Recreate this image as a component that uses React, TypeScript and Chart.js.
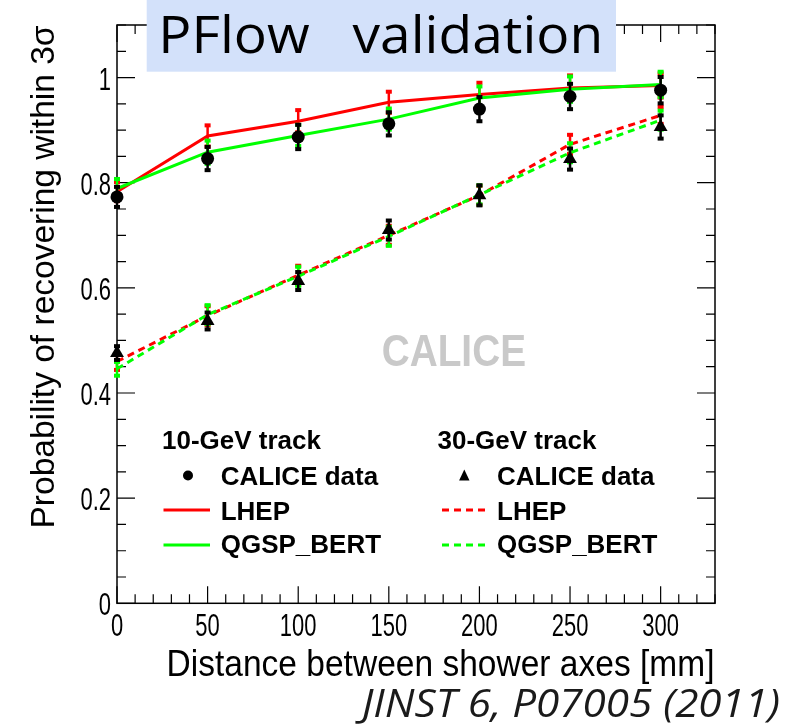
import React, { useEffect, useRef } from "react";
import { Chart, registerables } from "chart.js";

Chart.register(...registerables);

// Distance between shower axes [mm]
const distances = [0, 50, 100, 150, 200, 250, 300];

// 10-GeV track
const data10 = [0.773, 0.846, 0.887, 0.912, 0.940, 0.964, 0.976];
const data10Err = [0.021, 0.024, 0.025, 0.024, 0.025, 0.026, 0.027];
const lhep10 = [0.783, 0.889, 0.917, 0.953, 0.968, 0.980, 0.985];
const lhep10Err = [0.020, 0.022, 0.023, 0.022, 0.024, 0.026, 0.025];
const qgsp10 = [0.789, 0.858, 0.890, 0.921, 0.961, 0.978, 0.987];
const qgsp10Err = [0.020, 0.024, 0.022, 0.022, 0.024, 0.026, 0.026];

// 30-GeV track
const data30 = [0.476, 0.537, 0.613, 0.710, 0.776, 0.845, 0.906];
const data30Err = [0.015, 0.018, 0.019, 0.020, 0.021, 0.022, 0.024];
const lhep30 = [0.460, 0.547, 0.624, 0.700, 0.776, 0.873, 0.928];
const lhep30Err = [0.018, 0.020, 0.020, 0.020, 0.020, 0.020, 0.018];
const qgsp30 = [0.446, 0.549, 0.622, 0.698, 0.777, 0.857, 0.919];
const qgsp30Err = [0.015, 0.020, 0.020, 0.020, 0.020, 0.020, 0.020];

// Axis ticks
const xMajorTicks = [0, 50, 100, 150, 200, 250, 300];
const xTickLabels = ["0", "50", "100", "150", "200", "250", "300"];
const yMajorTicks = [0, 0.2, 0.4, 0.6, 0.8, 1];
const yTickLabels = ["0", "0.2", "0.4", "0.6", "0.8", "1"];
const X_MIN = 0;
const X_MAX = 330;
const X_MINOR_STEP = 10;
const Y_MIN = 0;
const Y_MAX = 1.1;
const Y_MINOR_STEP = 0.05;

const RED = "#ff0000";
const GREEN = "#00ff00";
const HELV = "'Liberation Sans', Arial, Helvetica, sans-serif";
const HUMAN = "'Open Sans', 'Noto Sans', sans-serif";

const pts = (ys: number[]) => distances.map((x, i) => ({ x, y: ys[i] }));

type TextOpts = {
  x: number;
  baseline: number;
  width?: number;
  sizeX?: number;
  cap: number;
  family: string;
  weight?: string;
  style?: string;
  align?: "left" | "center" | "right";
  color?: string;
};

// Draws text with independent horizontal and vertical scaling.
function stretchedText(ctx: CanvasRenderingContext2D, text: string, o: TextOpts) {
  const base = 100;
  ctx.save();
  ctx.font = `${o.style || "normal"} ${o.weight || "normal"} ${base}px ${o.family}`;
  const w = ctx.measureText(text).width;
  const capH = ctx.measureText("H").actualBoundingBoxAscent || 72;
  const sy = o.cap / capH;
  const sx = o.width != null ? o.width / w : (o.sizeX || 20) / base;
  const drawnW = w * sx;
  const align = o.align || "left";
  const x0 = align === "left" ? o.x : align === "center" ? o.x - drawnW / 2 : o.x - drawnW;
  ctx.translate(x0, o.baseline);
  ctx.scale(sx, sy);
  ctx.textAlign = "left";
  ctx.textBaseline = "alphabetic";
  ctx.fillStyle = o.color || "#000";
  ctx.fillText(text, 0, 0);
  ctx.restore();
}

const whiteBg = {
  id: "whiteBg",
  beforeDraw(chart: any) {
    const ctx = chart.ctx;
    ctx.save();
    ctx.fillStyle = "#fff";
    ctx.fillRect(0, 0, chart.width, chart.height);
    ctx.restore();
  },
};

// Frame, inward ticks on all four sides, tick labels and axis titles
const frameAxes = {
  id: "frameAxes",
  beforeDatasetsDraw(chart: any) {
    const ctx: CanvasRenderingContext2D = chart.ctx;
    const xs = chart.scales.x;
    const ys = chart.scales.y;
    const { left, right, top, bottom } = chart.chartArea;
    ctx.save();
    ctx.strokeStyle = "#000";
    ctx.lineWidth = 1.5;
    ctx.strokeRect(left, top, right - left, bottom - top);

    ctx.lineWidth = 1.2;
    ctx.beginPath();
    for (let v = X_MIN; v <= X_MAX + 1e-9; v += X_MINOR_STEP) {
      const px = xs.getPixelForValue(v);
      const major = Math.abs(v % 50) < 1e-6;
      const len = major ? 17 : 9;
      ctx.moveTo(px, bottom);
      ctx.lineTo(px, bottom - len);
      ctx.moveTo(px, top);
      ctx.lineTo(px, top + len);
    }
    for (let k = 0; k * Y_MINOR_STEP <= Y_MAX + 1e-9; k++) {
      const v = k * Y_MINOR_STEP;
      const py = ys.getPixelForValue(v);
      const major = k % 4 === 0;
      const len = major ? 18 : 9;
      ctx.moveTo(left, py);
      ctx.lineTo(left + len, py);
      ctx.moveTo(right, py);
      ctx.lineTo(right - len, py);
    }
    ctx.stroke();
    ctx.restore();

    // tick labels
    xMajorTicks.forEach((v, i) => {
      stretchedText(ctx, xTickLabels[i], {
        x: xs.getPixelForValue(v),
        baseline: 636,
        sizeX: 22,
        cap: 21,
        family: HELV,
        align: "center",
      });
    });
    yMajorTicks.forEach((v, i) => {
      stretchedText(ctx, yTickLabels[i], {
        x: 111,
        baseline: ys.getPixelForValue(v) + 12,
        sizeX: 22,
        cap: 21,
        family: HELV,
        align: "right",
      });
    });

    // axis titles
    stretchedText(ctx, "Distance between shower axes [mm]", {
      x: 714.5,
      baseline: 676,
      width: 548,
      cap: 26,
      family: HELV,
      align: "right",
    });
    ctx.save();
    ctx.translate(54, 277);
    ctx.rotate(-Math.PI / 2);
    stretchedText(ctx, "Probability of recovering within 3σ", {
      x: 0,
      baseline: 0,
      width: 503,
      cap: 23,
      family: HELV,
      align: "center",
    });
    ctx.restore();

    // watermark
    stretchedText(ctx, "CALICE", {
      x: 381.7,
      baseline: 365.7,
      width: 144.3,
      cap: 30.5,
      family: HELV,
      weight: "bold",
      color: "#c9c9c9",
    });
  },
};

function drawErrorBars(chart: any, index: number) {
  const ds = chart.data.datasets[index];
  if (!ds.errors) return;
  const ctx: CanvasRenderingContext2D = chart.ctx;
  const xs = chart.scales.x;
  const ys = chart.scales.y;
  ctx.save();
  ctx.strokeStyle = ds.errColor;
  ctx.fillStyle = ds.errColor;
  ctx.lineWidth = 2.5;
  ds.data.forEach((p: any, i: number) => {
    const e = ds.errors[i];
    const px = xs.getPixelForValue(p.x);
    const pHi = ys.getPixelForValue(p.y + e);
    const pLo = ys.getPixelForValue(p.y - e);
    ctx.beginPath();
    ctx.moveTo(px, pHi);
    ctx.lineTo(px, pLo);
    ctx.stroke();
    ctx.fillRect(px - 3, pHi - 1, 6, 4);
    ctx.fillRect(px - 3, pLo - 3, 6, 4);
  });
  ctx.restore();
}

const errorBars = {
  id: "errorBars",
  beforeDatasetDraw(chart: any, args: any) {
    const ds = chart.data.datasets[args.index];
    if (ds.errorsBelow) drawErrorBars(chart, args.index);
  },
  afterDatasetDraw(chart: any, args: any) {
    const ds = chart.data.datasets[args.index];
    if (!ds.errorsBelow) drawErrorBars(chart, args.index);
  },
};

// Legend, heading box and reference line
const overlay = {
  id: "overlay",
  afterDraw(chart: any) {
    const ctx: CanvasRenderingContext2D = chart.ctx;
    const T = { sizeX: 26, cap: 17.5, family: HELV, weight: "bold" };

    stretchedText(ctx, "10-GeV track", { ...T, x: 162, baseline: 449.3 });
    stretchedText(ctx, "30-GeV track", { ...T, x: 437.5, baseline: 449.3 });
    stretchedText(ctx, "CALICE data", { ...T, x: 220.7, baseline: 485 });
    stretchedText(ctx, "CALICE data", { ...T, x: 497, baseline: 485 });
    stretchedText(ctx, "LHEP", { ...T, x: 220.7, baseline: 520 });
    stretchedText(ctx, "LHEP", { ...T, x: 497, baseline: 520 });
    stretchedText(ctx, "QGSP_BERT", { ...T, x: 220.7, baseline: 553 });
    stretchedText(ctx, "QGSP_BERT", { ...T, x: 497, baseline: 553 });

    ctx.save();
    ctx.fillStyle = "#000";
    ctx.beginPath();
    ctx.arc(188, 475.5, 5, 0, Math.PI * 2);
    ctx.fill();
    ctx.beginPath();
    ctx.moveTo(464.3, 469.5);
    ctx.lineTo(469.5, 480.5);
    ctx.lineTo(459.1, 480.5);
    ctx.closePath();
    ctx.fill();

    ctx.lineWidth = 3;
    const seg = (x1: number, x2: number, y: number, c: string, dash: number[]) => {
      ctx.strokeStyle = c;
      ctx.setLineDash(dash);
      ctx.beginPath();
      ctx.moveTo(x1, y);
      ctx.lineTo(x2, y);
      ctx.stroke();
    };
    seg(163.5, 210, 510, RED, []);
    seg(163.5, 210, 545, GREEN, []);
    seg(442, 489, 510, RED, [7, 5]);
    seg(442, 489, 545, GREEN, [7, 5]);
    ctx.setLineDash([]);

    // heading box
    ctx.fillStyle = "#d3e1fa";
    ctx.fillRect(146.7, 0, 616 - 146.7, 71.7);
    ctx.restore();
    stretchedText(ctx, "PFlow   validation", {
      x: 158.3,
      baseline: 53.3,
      width: 445,
      cap: 38,
      family: HUMAN,
    });

    stretchedText(ctx, "JINST 6, P07005 (2011)", {
      x: 780,
      baseline: 717,
      width: 418,
      cap: 28,
      family: HUMAN,
      style: "italic",
      color: "#1a1a1a",
      align: "right",
    });
  },
};

export default function App() {
  const ref = useRef<HTMLCanvasElement>(null);

  useEffect(() => {
    if (!ref.current) return;
    const line = (label: string, ys: number[], errs: number[], color: string, dash: number[], order: number) => ({
      label,
      data: pts(ys),
      showLine: true,
      borderColor: color,
      borderWidth: 3,
      borderDash: dash,
      pointRadius: 0,
      tension: 0,
      clip: false,
      order,
      errors: errs,
      errColor: color,
    });
    const markers = (label: string, ys: number[], errs: number[], style: string, radius: number, order: number) => ({
      label,
      data: pts(ys),
      showLine: false,
      pointStyle: style,
      pointRadius: radius,
      backgroundColor: "#000",
      borderColor: "#000",
      borderWidth: 0,
      clip: false,
      order,
      errors: errs,
      errColor: "#000",
      errorsBelow: true,
    });

    const chart = new Chart(ref.current, {
      type: "scatter",
      data: {
        datasets: [
          line("LHEP 10 GeV", lhep10, lhep10Err, RED, [], 6),
          line("QGSP_BERT 10 GeV", qgsp10, qgsp10Err, GREEN, [], 5),
          line("LHEP 30 GeV", lhep30, lhep30Err, RED, [7, 5], 4),
          line("QGSP_BERT 30 GeV", qgsp30, qgsp30Err, GREEN, [7, 5], 3),
          markers("CALICE data 10 GeV", data10, data10Err, "circle", 6.5, 2),
          markers("CALICE data 30 GeV", data30, data30Err, "triangle", 8, 1),
        ] as any,
      },
      options: {
        animation: false,
        responsive: false,
        devicePixelRatio: 1,
        layout: { padding: { left: 117, right: 95, top: 25, bottom: 120.7 } },
        scales: {
          x: { type: "linear", min: X_MIN, max: X_MAX, display: false },
          y: { type: "linear", min: Y_MIN, max: Y_MAX, display: false },
        },
        plugins: {
          legend: { display: false },
          tooltip: { enabled: false },
          title: { display: false },
        },
      },
      plugins: [whiteBg, frameAxes, errorBars, overlay],
    });
    return () => chart.destroy();
  }, []);

  return (
    <div style={{ position: "fixed", left: 0, top: 0, width: 810, height: 724, background: "#fff" }}>
      <canvas ref={ref} width={810} height={724} style={{ width: 810, height: 724, display: "block" }} />
    </div>
  );
}
